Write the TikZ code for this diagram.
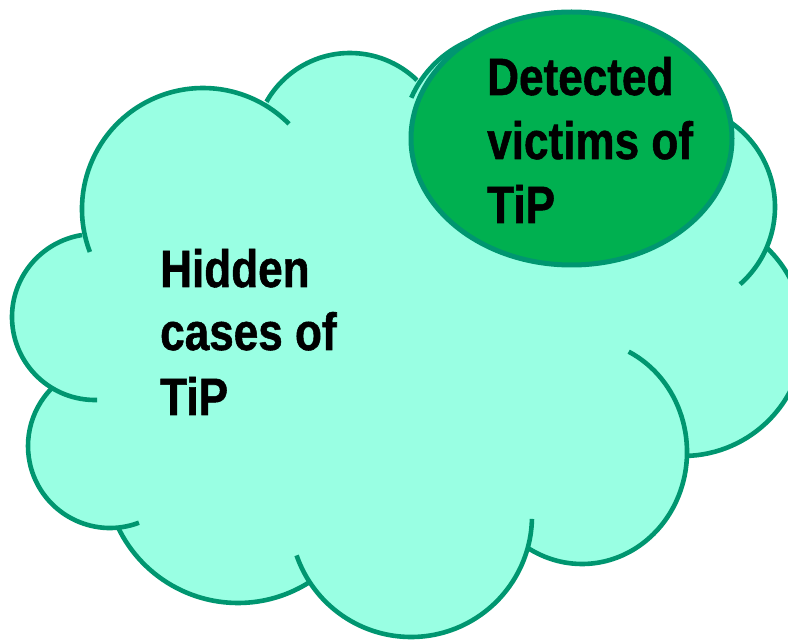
\documentclass[tikz,border=0pt]{standalone}
\usepackage{fontspec}
\usetikzlibrary{shapes.geometric}
\newfontfamily\lblfont{Liberation Sans}[FakeStretch=0.84,BoldFeatures={FakeStretch=0.84,FakeBold=1}]
\definecolor{cloudcol}{RGB}{153,255,227}
\definecolor{edgecol}{RGB}{0,150,112}
\definecolor{detcol}{RGB}{0,176,80}
\tikzset{
  cloudfill/.style={fill=cloudcol},
  cloudline/.style={draw=edgecol, line width=4.6pt},
  detect/.style={fill=detcol, draw=edgecol, line width=5pt},
  lbl/.style={inner sep=0pt, anchor=base west, font=\lblfont\bfseries\fontsize{52.5}{64}\selectfont, text=black}
}
\begin{document}
\begin{tikzpicture}[x=1pt,y=1pt]
\useasboundingbox (0,0) rectangle (788,641);
\clip (0,0) rectangle (788,641);
% lobe centres
\coordinate (A) at (203,432);
\coordinate (B) at (350,492);
\coordinate (C) at (512,499);
\coordinate (D) at (672,434);
\coordinate (E) at (683,306);
\coordinate (F) at (582,189);
\coordinate (G) at (411,125);
\coordinate (Hp) at (238,171);
\coordinate (H) at (110,195);
\coordinate (I) at (95,324);
% fill
\fill[cloudfill] (82,406) -- (265,538) -- (417,561) -- (767,393) -- (686,186) -- (527,94) -- (310,60) -- (118,114) -- (52,253) -- cycle;
\fill[cloudfill] (A) circle[radius=121];
\fill[cloudfill] (B) circle[radius=96];
\fill[cloudfill] (C) circle[radius=110];
\fill[cloudfill] (D) circle[radius=103];
\fill[cloudfill] (E) circle[radius=121];
\fill[cloudfill] (F) ellipse[x radius=105, y radius=112];
\fill[cloudfill] (G) circle[radius=121];
\fill[cloudfill] (Hp) circle[radius=133];
\fill[cloudfill] (H) circle[radius=82];
\fill[cloudfill] (I) circle[radius=83];
% outline arcs
\draw[cloudline] (A) ++(200.8:121) arc[start angle=200.8, end angle=44.7, radius=121];
\draw[cloudline] (B) ++(150.5:96) arc[start angle=150.5, end angle=45.8, radius=96];
\draw[cloudline] (C) ++(156.3:110) arc[start angle=156.3, end angle=70, radius=110];
\draw[cloudline] (D) ++(100:103) arc[start angle=100, end angle=-48.6, radius=103];
\draw[cloudline] (E) ++(46:121) arc[start angle=46, end angle=-88.6, radius=121];
\draw[cloudline] (F) ++(63.6:105 and 112) arc[start angle=63.6, end angle=-121.7, x radius=105, y radius=112];
\draw[cloudline] (G) ++(-1.4:121) arc[start angle=-1.4, end angle=-161, radius=121];
\draw[cloudline] (Hp) ++(-57.3:133) arc[start angle=-57.3, end angle=-154.6, radius=133];
\draw[cloudline] (H) ++(-69.3:82) arc[start angle=-69.3, end angle=-225, radius=82];
\draw[cloudline] (I) ++(271.4:83) arc[start angle=271.4, end angle=99, radius=83];
% detected ellipse
\node[detect, ellipse, minimum width=321pt, minimum height=253pt, inner sep=0pt] (det) at (571.5,502.5) {};
% texts
\node[lbl] (h1) at (160,354) {Hidden};
\node[lbl] (h2) at (160,291) {cases of};
\node[lbl] (h3) at (160,226) {TiP};
\node[lbl] (d1) at (487,546) {Detected};
\node[lbl] (d2) at (487,482) {victims of};
\node[lbl] (d3) at (487,418) {TiP};
\end{tikzpicture}
\end{document}
